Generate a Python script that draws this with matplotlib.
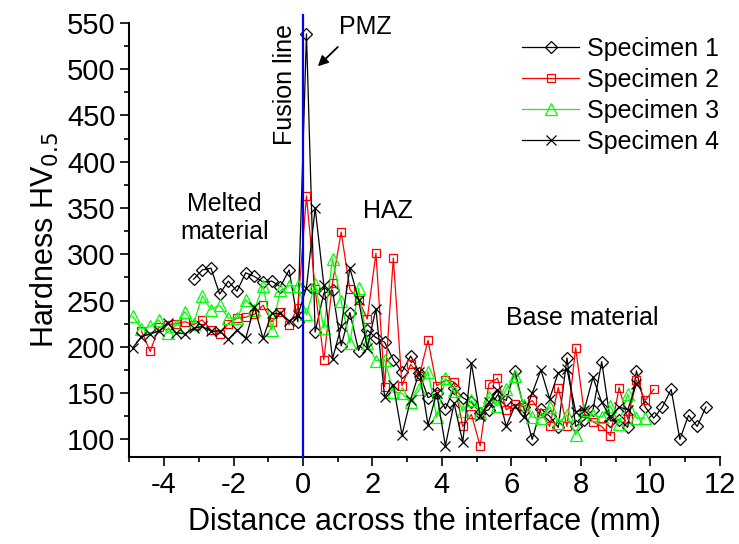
import matplotlib
matplotlib.use("Agg")
import matplotlib.pyplot as plt
from matplotlib.ticker import MultipleLocator

plt.rcParams['font.family'] = ['Liberation Sans', 'DejaVu Sans']
plt.rcParams['axes.unicode_minus'] = False

# measuring positions (mm), common grid for all specimens
distance = [-4.9, -4.65, -4.4, -4.15, -3.9, -3.65, -3.4, -3.15, -2.9, -2.65,
            -2.4, -2.15, -1.9, -1.65, -1.4, -1.15, -0.9, -0.65, -0.4, -0.15,
            0.1, 0.35, 0.6, 0.85, 1.1, 1.35, 1.6, 1.85, 2.1, 2.35,
            2.6, 2.85, 3.1, 3.35, 3.6, 3.85, 4.1, 4.35, 4.6, 4.85,
            5.1, 5.35, 5.6, 5.85, 6.1, 6.35, 6.6, 6.85, 7.1, 7.35,
            7.6, 7.85, 8.1, 8.35, 8.6, 8.85, 9.1, 9.35, 9.6, 9.85,
            10.1, 10.35, 10.6, 10.85, 11.1, 11.35, 11.6]

# Specimen 1 starts at -3.15 mm
hv1 = [273, 283, 285, 257, 271, 260, 280, 276, 270, 271,
       265, 283, 227, 538, 216, 258, 261, 201, 237, 196,
       218, 210, 205, 186, 173, 190, 172, 145, 150, 133,
       155, 145, 140, 129, 132, 148, 142, 174, 135, 100,
       133, 125, 113, 188, 114, 121, 132, 184, 120, 121,
       113, 174, 135, 123, 135, 154, 100, 126, 114, 135]
# Specimen 2 starts at -4.65 mm
hv2 = [217, 195, 221, 224, 225, 227, 224, 229, 218, 214,
       225, 231, 232, 235, 245, 227, 238, 224, 242, 363,
       262, 186, 269, 324, 262, 251, 230, 301, 157, 296,
       158, 181, 169, 207, 158, 164, 162, 114, 127, 93,
       160, 166, 132, 138, 135, 142, 129, 114, 156, 114,
       199, 128, 119, 114, 104, 156, 122, 164, 142, 154]
# Specimen 3 starts at -4.9 mm
hv3 = [233, 219, 222, 229, 215, 223, 238, 225, 255, 240,
       245, 231, 231, 251, 240, 266, 218, 261, 266, 266,
       235, 268, 220, 295, 249, 204, 263, 204, 185, 186,
       151, 150, 140, 154, 173, 124, 166, 152, 131, 142,
       129, 146, 136, 154, 168, 137, 124, 123, 135, 118,
       126, 105, 132, 126, 124, 136, 117, 149, 123, 123]
# Specimen 4 starts at -4.9 mm
hv4 = [199, 211, 214, 217, 226, 215, 214, 220, 222, 217,
       217, 208, 218, 209, 243, 209, 236, 236, 228, 234,
       264, 350, 267, 187, 222, 285, 251, 199, 241, 146,
       159, 105, 143, 173, 116, 150, 93, 139, 97, 182,
       125, 140, 153, 114, 136, 124, 150, 175, 144, 172,
       176, 130, 132, 167, 140, 124, 135, 132, 160]

labels = ['Specimen 1', 'Specimen 2', 'Specimen 3', 'Specimen 4']
starts = [-3.15, -4.65, -4.9, -4.9]

fig = plt.figure(figsize=(7.39, 5.44), dpi=100)
ax = fig.add_axes([0.175, 0.16, 0.799, 0.798])

series = [hv1, hv2, hv3, hv4]
styles = [dict(color='black', marker='D', ms=6),
          dict(color='#ff0000', marker='s', ms=5.5),
          dict(color='#00ff00', marker='^', ms=8),
          dict(color='black', marker='x', ms=7)]
for hv, lab, x0, st in zip(series, labels, starts, styles):
    i0 = distance.index(x0)
    x = distance[i0:i0 + len(hv)]
    ax.plot(x, hv, color=st['color'], marker=st['marker'], ms=st['ms'],
            mfc='none', mec=st['color'], mew=0.9, lw=0.9, label=lab)

# fusion line
ax.axvline(0, ymin=0, ymax=1.018, color='#0000ff', lw=1.6, clip_on=False, zorder=5)

ax.set_xlim(-5, 12)
ax.set_ylim(81, 550)
ax.xaxis.set_major_locator(MultipleLocator(2))
ax.xaxis.set_minor_locator(MultipleLocator(1))
ax.yaxis.set_major_locator(MultipleLocator(50))
ax.yaxis.set_minor_locator(MultipleLocator(25))
ax.spines['top'].set_visible(False)
ax.spines['right'].set_visible(False)
for s in ['left', 'bottom']:
    ax.spines[s].set_linewidth(1.5)
ax.tick_params(which='major', direction='out', length=6.5, width=1.2, labelsize=21)
ax.tick_params(which='minor', direction='out', length=3.5, width=1.2)
ax.set_xticks([-4, -2, 0, 2, 4, 6, 8, 10, 12])

ax.set_xlabel('Distance across the interface (mm)', fontsize=22, labelpad=6)
ax.set_ylabel('Hardness HV$_{0.5}$', fontsize=22, labelpad=4)

ax.text(-0.53, 483, 'Fusion line', rotation=90, fontsize=18, ha='center', va='center')
ax.text(1.8, 545, 'PMZ', fontsize=18, ha='center', va='center')
ax.annotate('', xy=(0.37, 501), xytext=(1.06, 526),
            arrowprops=dict(arrowstyle='-|>', color='black', lw=1.3, mutation_scale=15))
ax.text(2.44, 347, 'HAZ', fontsize=18, ha='center', va='center')
ax.text(-2.26, 339, 'Melted\nmaterial', fontsize=18, ha='center', va='center', linespacing=1.2)
ax.text(8.05, 231, 'Base material', fontsize=18, ha='center', va='center')

ax.legend(loc='upper left', bbox_to_anchor=(0.648, 0.99), frameon=False, fontsize=18,
          handlelength=2.3, handletextpad=0.3, labelspacing=0.28, borderaxespad=0)

fig.savefig('out.png', dpi=100)
